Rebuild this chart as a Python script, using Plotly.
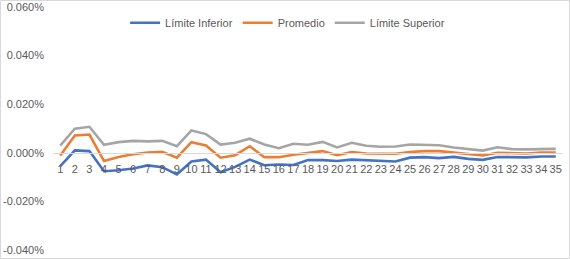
import plotly.graph_objects as go

categories = [str(i) for i in range(1, 36)]

limite_inferior = [-0.0055, 0.0010, 0.0007, -0.0076, -0.0072, -0.0065, -0.0052, -0.0059, -0.0089, -0.0036,
                   -0.0028, -0.0080, -0.0058, -0.0028, -0.0051, -0.0048, -0.0050, -0.0030, -0.0030, -0.0034,
                   -0.0028, -0.0030, -0.0033, -0.0036, -0.0020, -0.0018, -0.0022, -0.0017, -0.0025, -0.0029,
                   -0.0017, -0.0019, -0.0019, -0.0015, -0.0015]
promedio = [-0.0011, 0.0071, 0.0075, -0.0034, -0.0017, -0.0006, 0.0001, 0.0004, -0.0020, 0.0044,
            0.0030, -0.0020, -0.0010, 0.0027, -0.0018, -0.0018, -0.0008, 0.0001, 0.0007, -0.0010,
            0.0003, -0.0003, -0.0003, -0.0004, 0.0003, 0.0007, 0.0007, 0.0001, -0.0006, -0.0011,
            0.0000, -0.0003, -0.0003, 0.0001, 0.0001]
limite_superior = [0.0030, 0.0099, 0.0107, 0.0033, 0.0044, 0.0049, 0.0047, 0.0049, 0.0027, 0.0092,
                   0.0077, 0.0034, 0.0041, 0.0058, 0.0034, 0.0019, 0.0037, 0.0033, 0.0045, 0.0022,
                   0.0041, 0.0029, 0.0025, 0.0026, 0.0034, 0.0034, 0.0031, 0.0022, 0.0016, 0.0009,
                   0.0023, 0.0015, 0.0014, 0.0016, 0.0016]

# values are in percent units
y_tickvals = [-0.04, -0.02, 0.0, 0.02, 0.04, 0.06]
y_ticktext = ["-0.040%", "-0.020%", "0.000%", "0.020%", "0.040%", "0.060%"]

series = [
    ("Límite Inferior", limite_inferior, "#4472C4"),
    ("Promedio", promedio, "#ED7D31"),
    ("Límite Superior", limite_superior, "#A5A5A5"),
]

fig = go.Figure()
for name, vals, color in series:
    fig.add_trace(go.Scatter(x=categories, y=vals, name=name, mode="lines",
                             line=dict(color=color, width=2.6)))

font = dict(family="Liberation Sans, Arial, sans-serif", size=11, color="#595959")

fig.update_layout(
    width=570, height=259,
    margin=dict(l=53, r=7, t=7, b=9, autoexpand=False),
    paper_bgcolor="white", plot_bgcolor="white",
    font=font,
    showlegend=True,
    legend=dict(orientation="h", x=0.46, xanchor="center", y=0.995, yanchor="top",
                font=font, bgcolor="rgba(0,0,0,0)", itemwidth=30, tracegroupgap=0),
    xaxis=dict(type="category", range=[-0.5, 34.5], showgrid=False,
               showline=True, linecolor="#D9D9D9", linewidth=1, automargin=False,
               anchor="free", position=0.4, ticks="", tickfont=font,
               zeroline=False, ticklabelstandoff=6),
    yaxis=dict(range=[-0.04, 0.06], tickvals=y_tickvals, ticktext=y_ticktext,
               showgrid=False, zeroline=False, showline=False, ticks="", automargin=False,
               tickfont=font, ticklabelstandoff=8),
    shapes=[dict(type="rect", xref="paper", yref="paper",
                 x0=(0.5 - 53) / 510, x1=(569.5 - 53) / 510,
                 y0=(250 - 258.5) / 243, y1=(250 - 0.5) / 243,
                 line=dict(color="#D9D9D9", width=1), fillcolor="rgba(0,0,0,0)", layer="below")],
)

fig.write_html("out.html", config={"displayModeBar": False},
               post_script="document.body.style.margin='0';document.body.style.overflow='hidden';")
